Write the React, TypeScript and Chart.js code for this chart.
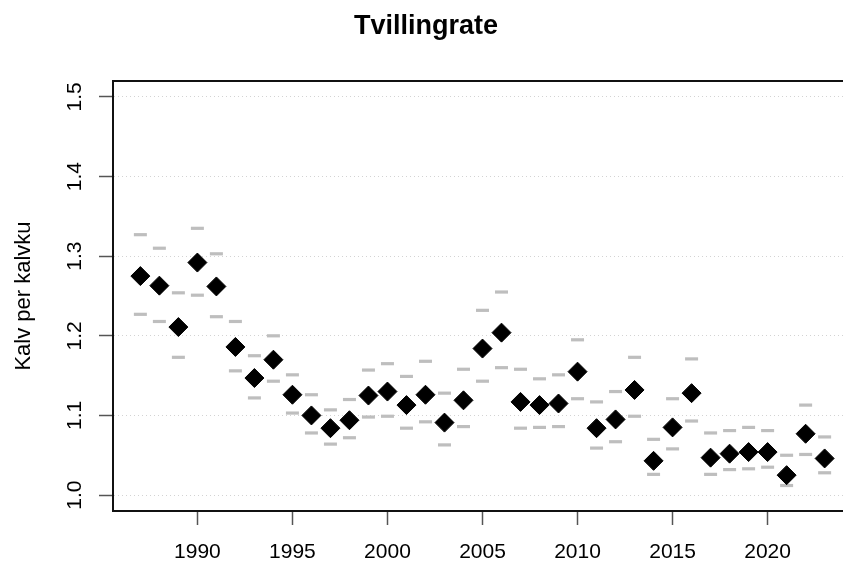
import React, { useEffect, useRef } from "react";
import { Chart, registerables } from "chart.js";

Chart.register(...registerables);

const YEARS = [
  1987, 1988, 1989, 1990, 1991, 1992, 1993, 1994, 1995, 1996, 1997, 1998, 1999,
  2000, 2001, 2002, 2003, 2004, 2005, 2006, 2007, 2008, 2009, 2010, 2011, 2012,
  2013, 2014, 2015, 2016, 2017, 2018, 2019, 2020, 2021, 2022, 2023,
];
const TWIN_RATE = [
  1.275, 1.263, 1.211, 1.292, 1.262, 1.186, 1.147, 1.17, 1.126, 1.1, 1.084, 1.094, 1.125,
  1.13, 1.113, 1.126, 1.091, 1.119, 1.184, 1.204, 1.117, 1.113, 1.115, 1.155, 1.084, 1.095,
  1.132, 1.043, 1.085, 1.128, 1.047, 1.052, 1.054, 1.054, 1.025, 1.077, 1.046,
];
const UPPER = [
  1.327, 1.31, 1.254, 1.335, 1.303, 1.218, 1.175, 1.2, 1.151, 1.126, 1.107, 1.12, 1.157,
  1.165, 1.149, 1.168, 1.128, 1.158, 1.232, 1.255, 1.158, 1.146, 1.151, 1.195, 1.117, 1.13,
  1.173, 1.07, 1.121, 1.171, 1.078, 1.081, 1.085, 1.081, 1.05, 1.113, 1.073,
];
const LOWER = [
  1.227, 1.218, 1.173, 1.251, 1.224, 1.156, 1.122, 1.143, 1.103, 1.078, 1.064, 1.072, 1.098,
  1.099, 1.084, 1.092, 1.063, 1.086, 1.143, 1.16, 1.084, 1.085, 1.086, 1.121, 1.059, 1.067,
  1.099, 1.026, 1.058, 1.093, 1.026, 1.032, 1.033, 1.035, 1.012, 1.051, 1.028,
];
const X_TICKS = [1990, 1995, 2000, 2005, 2010, 2015, 2020];
const Y_TICKS = [1.0, 1.1, 1.2, 1.3, 1.4, 1.5];
const TITLE = "Tvillingrate";
const Y_LABEL = "Kalv per kalvku";

const FONT = "'Liberation Sans', Arial, Helvetica, sans-serif";

export default function App() {
  const ref = useRef<HTMLCanvasElement | null>(null);

  useEffect(() => {
    document.body.style.margin = "0";
    const canvas = ref.current;
    if (!canvas) return;

    const xSpan = Math.max(...YEARS) - Math.min(...YEARS);
    const xMin = Math.min(...YEARS) - 0.04 * xSpan;
    const xMax = Math.max(...YEARS) + 0.04 * xSpan;
    const ySpan = Math.max(...Y_TICKS) - Math.min(...Y_TICKS);
    const yMin = Math.min(...Y_TICKS) - 0.04 * ySpan;
    const yMax = Math.max(...Y_TICKS) + 0.04 * ySpan;

    const pts = (vals: number[]) => YEARS.map((y, i) => ({ x: y, y: vals[i] }));

    const chart = new Chart(canvas, {
      type: "scatter",
      data: {
        datasets: [
          {
            label: "Tvillingrate",
            data: pts(TWIN_RATE),
            pointStyle: "rectRot",
            pointRadius: 9.5,
            backgroundColor: "#000",
            borderColor: "#000",
            borderWidth: 1,
            showLine: false,
          },
          {
            label: "Øvre",
            data: pts(UPPER),
            pointStyle: "line",
            pointRadius: 6.5,
            borderColor: "#bebebe",
            borderWidth: 3.2,
            showLine: false,
          },
          {
            label: "Nedre",
            data: pts(LOWER),
            pointStyle: "line",
            pointRadius: 6.5,
            borderColor: "#bebebe",
            borderWidth: 3.2,
            showLine: false,
          },
        ],
      },
      options: {
        responsive: false,
        animation: false,
        events: [],
        layout: { padding: { left: 0, right: 113, top: 0, bottom: 0 } },
        plugins: {
          legend: { display: false },
          tooltip: { enabled: false },
          title: {
            display: true,
            text: TITLE,
            color: "#000",
            font: { family: FONT, size: 27, weight: "bold", lineHeight: 1.2 },
            padding: { top: 10, bottom: 38.6 },
          },
        },
        scales: {
          x: {
            type: "linear",
            position: "bottom",
            min: xMin,
            max: xMax,
            afterBuildTicks: (scale: any) => {
              scale.ticks = X_TICKS.map((v) => ({ value: v }));
            },
            afterFit: (scale: any) => {
              scale.height = 55;
            },
            ticks: {
              callback: (v: any) => String(v),
              color: "#000",
              font: { family: FONT, size: 21 },
              padding: 15,
              maxRotation: 0,
              minRotation: 0,
              autoSkip: false,
            },
            grid: {
              drawOnChartArea: false,
              drawTicks: true,
              tickLength: 14,
              tickColor: "#555",
              tickWidth: 1.5,
            },
            border: { display: true, color: "#111", width: 2 },
          },
          x2: {
            type: "linear",
            position: "top",
            min: xMin,
            max: xMax,
            ticks: { display: false },
            grid: { drawOnChartArea: false, drawTicks: false },
            border: { display: true, color: "#111", width: 2 },
          },
          y: {
            type: "linear",
            position: "left",
            min: yMin,
            max: yMax,
            afterBuildTicks: (scale: any) => {
              scale.ticks = Y_TICKS.map((v) => ({ value: v }));
            },
            afterFit: (scale: any) => {
              scale.width = 113;
            },
            ticks: {
              callback: (v: any) => Number(v).toFixed(1),
              color: "#000",
              font: { family: FONT, size: 21 },
              padding: 9,
              minRotation: 90,
              maxRotation: 90,
              crossAlign: "center",
              autoSkip: false,
            },
            grid: {
              drawOnChartArea: true,
              color: "#d3d3d3",
              lineWidth: 1,
              drawTicks: true,
              tickLength: 14,
              tickColor: "#555",
              tickWidth: 1.5,
              tickBorderDash: [],
            },
            border: { display: true, color: "#111", width: 2, dash: [1, 3] },
            title: {
              display: true,
              text: Y_LABEL,
              color: "#000",
              font: { family: FONT, size: 22, lineHeight: 1.2 },
              padding: { top: 11, bottom: 0 },
            },
          },
        },
      },
    } as any);

    return () => chart.destroy();
  }, []);

  return (
    <div
      style={{
        position: "fixed",
        left: 0,
        top: 0,
        width: 843,
        height: 566,
        overflow: "hidden",
        background: "#fff",
      }}
    >
      <canvas ref={ref} width={965} height={566} style={{ display: "block" }} />
    </div>
  );
}
